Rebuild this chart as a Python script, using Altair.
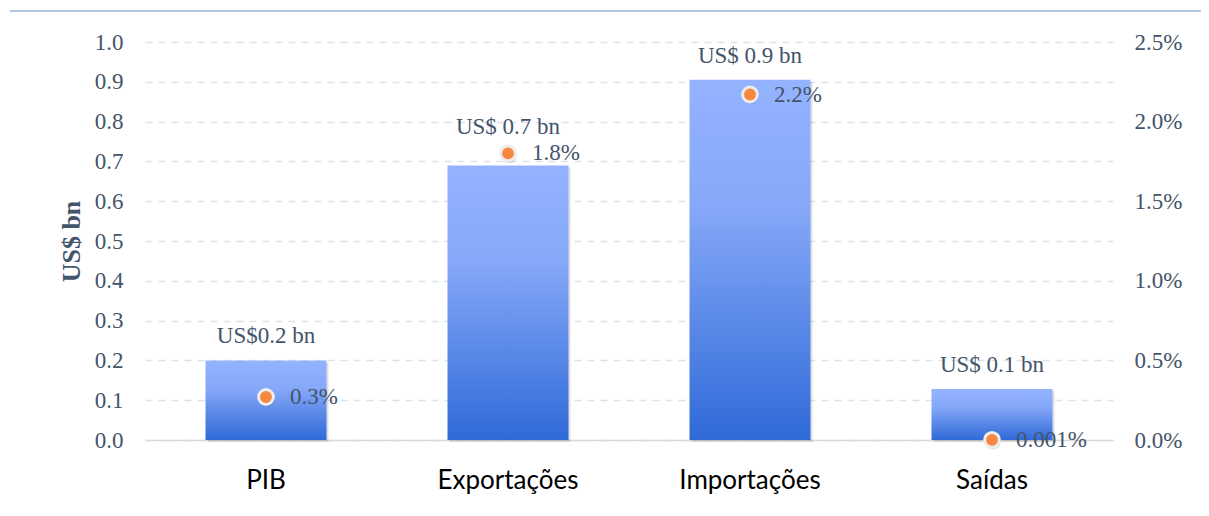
import altair as alt
import pandas as pd

categories = ["PIB", "Exportações", "Importações", "Saídas"]
values_bn = [0.2, 0.69, 0.905, 0.128]
value_labels = ["US$0.2 bn", "US$ 0.7 bn", "US$ 0.9 bn", "US$ 0.1 bn"]
share_pct = [0.27, 1.8, 2.17, 0.001]
share_labels = ["0.3%", "1.8%", "2.2%", "0.001%"]
left_ticks = [0.0, 0.1, 0.2, 0.3, 0.4, 0.5, 0.6, 0.7, 0.8, 0.9, 1.0]
right_ticks = [0.0, 0.5, 1.0, 1.5, 2.0, 2.5]

df = pd.DataFrame({
    "cat": categories,
    "bn": values_bn,
    "bn_label": value_labels,
    "pct": share_pct,
    "pct_label": share_labels,
})

W, H = 968, 398
PAD_L, PAD_T = 137, 34
PAD_R = 1193 - PAD_L - W
PAD_B = 500 - PAD_T - H

SERIF = "Liberation Serif"
TXT = "#44546A"

x = alt.X(
    "cat:N",
    sort=categories,
    scale=alt.Scale(paddingInner=0.5, paddingOuter=0.25),
    axis=alt.Axis(
        title=None, labelAngle=0, labelFont="Lato", labelFontSize=26,
        labelColor="#000000", labelPadding=27, ticks=False,
        domainColor="#D9D9D9", domainWidth=1.5,
    ),
)

y_left = alt.Y(
    "bn:Q",
    scale=alt.Scale(domain=[0, 1.0], nice=False),
    axis=alt.Axis(
        title="US$ bn", titleFont=SERIF, titleFontSize=26, titleFontWeight="bold",
        titleColor=TXT, titlePadding=10, values=left_ticks, format=".1f",
        labelFont=SERIF, labelFontSize=23, labelColor=TXT, labelPadding=22,
        ticks=False, domain=False, grid=True, gridColor="#DDE2EA",
        gridDash=[7, 6], gridWidth=1.5,
    ),
)

y_right = alt.Y(
    "pct:Q",
    scale=alt.Scale(domain=[0, 2.5], nice=False),
    axis=alt.Axis(
        orient="right", title=None, values=right_ticks,
        labelExpr="format(datum.value, '.1f') + '%'",
        labelFont=SERIF, labelFontSize=23, labelColor=TXT, labelPadding=21,
        ticks=False, domain=False, grid=False,
    ),
)

base = alt.Chart(df)

shadow = base.mark_bar(color="#000000", opacity=0.12, xOffset=2, yOffset=2).encode(x=x, y=y_left)

bars = base.mark_bar(
    color=alt.Gradient(
        gradient="linear",
        stops=[
            alt.GradientStop(color="#94B3FF", offset=0),
            alt.GradientStop(color="#86A8F8", offset=0.35),
            alt.GradientStop(color="#2F6AD8", offset=1),
        ],
        x1=0, x2=0, y1=0, y2=1,
    )
).encode(x=x, y=y_left)

# value labels; the Exportações label sits higher, above its marker
bar_text = base.mark_text(
    font=SERIF, fontSize=23, color=TXT, dy=-24, baseline="middle", align="center"
).encode(x=x, y=y_left, text="bn_label:N").transform_filter(
    alt.datum.cat != "Exportações"
)
bar_text_hi = base.mark_text(
    font=SERIF, fontSize=23, color=TXT, dy=-38, baseline="middle", align="center"
).encode(x=x, y=y_left, text="bn_label:N").transform_filter(
    alt.datum.cat == "Exportações"
)

left_layer = alt.layer(shadow, bars, bar_text, bar_text_hi)

points_shadow = base.mark_point(
    filled=True, shape="circle", size=240, color="#000000", opacity=0.12,
    xOffset=1, yOffset=2,
).encode(x=x, y=y_right)

points = base.mark_point(
    filled=True, shape="circle", size=220, color="#F6873F",
    stroke="#ECECEC", strokeWidth=3, opacity=1,
).encode(x=x, y=y_right)

pct_text = base.mark_text(
    font=SERIF, fontSize=23, color=TXT, dx=24, baseline="middle", align="left"
).encode(x=x, y=y_right, text="pct_label:N")

right_layer = alt.layer(points_shadow, points, pct_text)

top_line = alt.Chart(pd.DataFrame({"a": [0]})).mark_rule(
    color="#B4C7E7", strokeWidth=2
).encode(x=alt.value(-135), x2=alt.value(1209 - 8 - PAD_L), y=alt.value(-31))

chart = alt.layer(left_layer, right_layer, top_line).resolve_scale(
    y="independent"
).properties(
    width=W, height=H,
    autosize=alt.AutoSizeParams(type="none"),
    padding={"left": PAD_L, "top": PAD_T, "right": PAD_R, "bottom": PAD_B},
    background="white",
).configure_view(stroke=None)

chart.save("out.html", embed_options={"renderer": "svg", "actions": False})
